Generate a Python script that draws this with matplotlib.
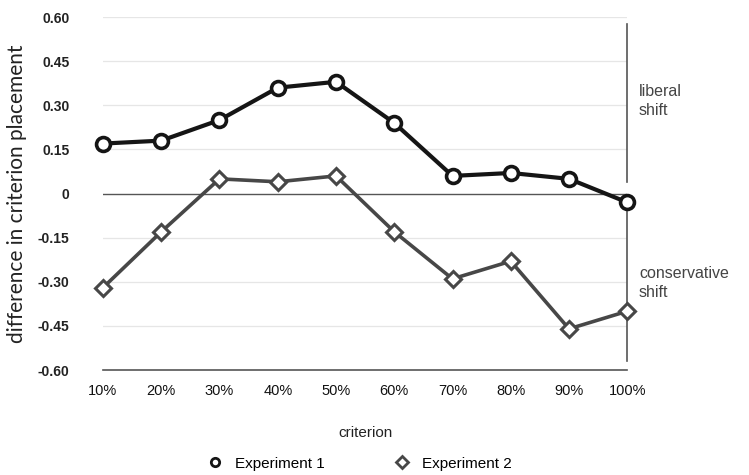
import matplotlib.pyplot as plt
import numpy as np

criteria = ['10%', '20%', '30%', '40%', '50%', '60%', '70%', '80%', '90%', '100%']
exp1 = [0.17, 0.18, 0.25, 0.36, 0.38, 0.24, 0.06, 0.07, 0.05, -0.03]
exp2 = [-0.32, -0.13, 0.05, 0.04, 0.06, -0.13, -0.29, -0.23, -0.46, -0.40]
yticks = [0.60, 0.45, 0.30, 0.15, 0, -0.15, -0.30, -0.45, -0.60]
ytick_labels = ['0.60', '0.45', '0.30', '0.15', '0', '-0.15', '-0.30', '-0.45', '-0.60']

plt.rcParams['font.family'] = ['Liberation Sans', 'DejaVu Sans']

fig = plt.figure(figsize=(7.49, 4.75), dpi=100)
ax = fig.add_axes([0.1375, 0.221, 0.7, 0.743])

x = np.arange(len(criteria))

for yv in yticks:
    if yv == 0 or yv == -0.60:
        continue
    ax.axhline(yv, color='#e6e6e6', linewidth=0.9, zorder=0)
ax.axhline(0, color='#555555', linewidth=1.0, zorder=1)
ax.axhline(-0.60, color='#555555', linewidth=1.2, zorder=1, clip_on=False)

ax.plot(x, exp2, color='#474747', linewidth=2.6, marker='D', markersize=8,
        markerfacecolor='white', markeredgecolor='#474747', markeredgewidth=2.2,
        label='Experiment 2', clip_on=False, zorder=3)
ax.plot(x, exp1, color='#151515', linewidth=3.0, marker='o', markersize=10,
        markerfacecolor='white', markeredgecolor='#151515', markeredgewidth=2.6,
        label='Experiment 1', clip_on=False, zorder=4)

ax.set_xlim(0, 9)
ax.set_ylim(-0.60, 0.60)
ax.set_yticks(yticks)
ax.set_yticklabels(ytick_labels, fontsize=10, fontweight='bold', color='#222222')
ax.set_xticks(x)
ax.set_xticklabels(criteria, fontsize=10.5, color='#111111')
ax.tick_params(axis='both', length=0)
ax.tick_params(axis='y', pad=24)
ax.tick_params(axis='x', pad=10)
for s in ax.spines.values():
    s.set_visible(False)

ax.set_ylabel('difference in criterion placement', fontsize=15, family='Lato',
              color='#222222', labelpad=8)
ax.set_xlabel('criterion', fontsize=11, color='#222222', labelpad=20)

# right-hand brackets
ax.plot([9.0, 9.0], [0.575, 0.04], color='#555555', linewidth=1.2, clip_on=False)
ax.plot([9.0, 9.0], [-0.04, -0.57], color='#555555', linewidth=1.2, clip_on=False)
ax.text(9.2, 0.315, 'liberal\nshift', fontsize=11.5, color='#444444',
        va='center', ha='left', linespacing=1.35)
ax.text(9.2, -0.305, 'conservative\nshift', fontsize=11.5, color='#444444',
        va='center', ha='left', linespacing=1.35)

handles, labels = ax.get_legend_handles_labels()
leg = fig.legend(handles[::-1], labels[::-1], loc='lower center', ncol=2,
                 frameon=False, fontsize=11, bbox_to_anchor=(0.48, -0.02),
                 handlelength=1.0, columnspacing=4.6)
for h in leg.legend_handles:
    h.set_linestyle('none')
    h.set_markersize(6)
    h.set_markeredgewidth(2)

fig.savefig('out.png', dpi=100)
